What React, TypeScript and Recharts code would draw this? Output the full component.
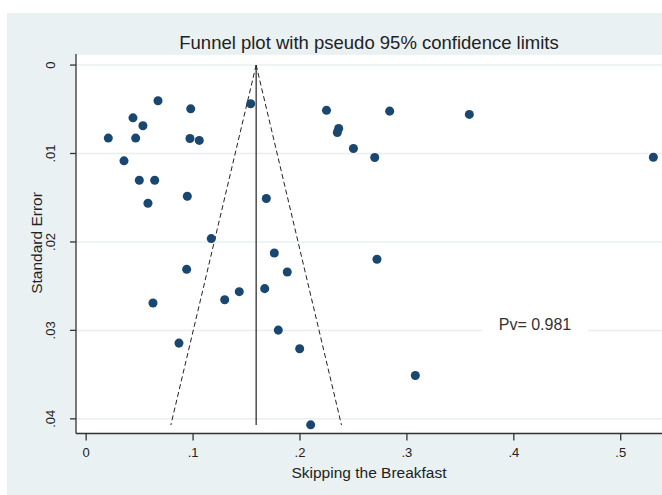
import {
  ScatterChart,
  Scatter,
  XAxis,
  YAxis,
  CartesianGrid,
  ReferenceLine,
} from "recharts";

// study estimates (x) and their standard errors (y)
const effectSize = [
  0.0207, 0.0354, 0.0438, 0.0463, 0.0531, 0.0497, 0.0641, 0.0578, 0.0672,
  0.0978, 0.0971, 0.1058, 0.0946, 0.1539, 0.1685, 0.117, 0.176, 0.2248,
  0.2362, 0.2349, 0.25, 0.2699, 0.2839, 0.3584, 0.5305, 0.272, 0.094, 0.1881,
  0.0625, 0.1296, 0.1432, 0.167, 0.1797, 0.0868, 0.1997, 0.21, 0.3079,
];
const standardError = [
  0.00826, 0.01083, 0.00597, 0.00826, 0.00687, 0.01302, 0.01302, 0.01562,
  0.00404, 0.00495, 0.0083, 0.00852, 0.01483, 0.00438, 0.01509, 0.01962,
  0.02125, 0.00512, 0.00717, 0.00762, 0.00943, 0.01045, 0.00521, 0.00558,
  0.01042, 0.02196, 0.0231, 0.0234, 0.02691, 0.02653, 0.02562, 0.02528,
  0.02997, 0.03144, 0.03207, 0.04068, 0.0351,
];

const pooledEstimate = 0.159;
const funnelSE = [0, 0.0407];
const funnelLower = [0.159, 0.0792];
const funnelUpper = [0.159, 0.2388];

const xTicks = [0, 0.1, 0.2, 0.3, 0.4, 0.5];
const yTicks = [0, 0.01, 0.02, 0.03, 0.04];

const points = effectSize.map((x, i) => ({ x, y: standardError[i] }));

const FONT = "'Liberation Sans', Arial, sans-serif";
const AXIS = "#333";

const fmt = (v: number) => (v === 0 ? "0" : String(v).replace(/^0/, ""));

function YTick({ x, y, payload }: any) {
  const bx = x - 12.5;
  return (
    <text
      x={bx}
      y={y}
      transform={`rotate(-90, ${bx}, ${y})`}
      textAnchor="middle"
      fontSize={13}
      fill="#222"
    >
      {fmt(payload.value)}
    </text>
  );
}

export default function App() {
  return (
    <div
      style={{
        position: "absolute",
        left: 0,
        top: 0,
        width: 662,
        height: 495,
        background: "#fff",
        fontFamily: FONT,
        overflow: "hidden",
      }}
    >
      <div
        style={{
          position: "absolute",
          left: 7,
          top: 13,
          width: 655,
          height: 482,
          background: "#eaf1f3",
        }}
      />
      <ScatterChart
        width={662}
        height={495}
        margin={{ top: 54, right: 0, bottom: 0, left: 0 }}
        style={{ position: "absolute", left: 0, top: 0, fontFamily: FONT }}
      >
        <CartesianGrid
          vertical={false}
          fill="#fff"
          stroke="#e8eff0"
          strokeWidth={1.5}
        />
        <XAxis
          type="number"
          dataKey="x"
          domain={[-0.0095, 0.5386]}
          allowDataOverflow
          ticks={xTicks}
          tickFormatter={fmt}
          height={61.5}
          tickSize={7}
          tickMargin={7}
          tick={{ fill: "#222", fontSize: 13 }}
          axisLine={{ stroke: AXIS, strokeWidth: 1.3 }}
          tickLine={{ stroke: AXIS, strokeWidth: 1.3 }}
          label={{
            value: "Skipping the Breakfast",
            position: "insideBottom",
            offset: 17,
            fill: "#222",
            fontSize: 15.5,
          }}
        />
        <YAxis
          type="number"
          dataKey="y"
          reversed
          domain={[-0.00125, 0.04166]}
          allowDataOverflow
          ticks={yTicks}
          width={76}
          tickSize={6}
          tickMargin={2}
          tick={<YTick />}
          axisLine={{ stroke: AXIS, strokeWidth: 1.3 }}
          tickLine={{ stroke: AXIS, strokeWidth: 1.3 }}
        />
        <ReferenceLine
          segment={[
            { x: pooledEstimate, y: funnelSE[0] },
            { x: pooledEstimate, y: funnelSE[1] },
          ]}
          stroke="#222"
          strokeWidth={1.2}
        />
        <ReferenceLine
          segment={[
            { x: funnelLower[0], y: funnelSE[0] },
            { x: funnelLower[1], y: funnelSE[1] },
          ]}
          stroke="#222"
          strokeWidth={1}
          strokeDasharray="5 3"
        />
        <ReferenceLine
          segment={[
            { x: funnelUpper[0], y: funnelSE[0] },
            { x: funnelUpper[1], y: funnelSE[1] },
          ]}
          stroke="#222"
          strokeWidth={1}
          strokeDasharray="5 3"
        />
        <Scatter data={points} fill="#1a476f" isAnimationActive={false} />
      </ScatterChart>
      <div
        style={{
          position: "absolute",
          left: 369,
          top: 43,
          transform: "translate(-50%, -50%)",
          whiteSpace: "nowrap",
          fontSize: 18.5,
          color: "#222",
        }}
      >
        Funnel plot with pseudo 95% confidence limits
      </div>
      <div
        style={{
          position: "absolute",
          left: 36.5,
          top: 243,
          transform: "translate(-50%, -50%) rotate(-90deg)",
          whiteSpace: "nowrap",
          fontSize: 15.5,
          color: "#222",
        }}
      >
        Standard Error
      </div>
      <div
        style={{
          position: "absolute",
          left: 482,
          top: 312,
          width: 106,
          height: 26,
          lineHeight: "26px",
          background: "#fff",
          textAlign: "center",
          fontSize: 16,
          color: "#333",
        }}
      >
        Pv= 0.981
      </div>
    </div>
  );
}
